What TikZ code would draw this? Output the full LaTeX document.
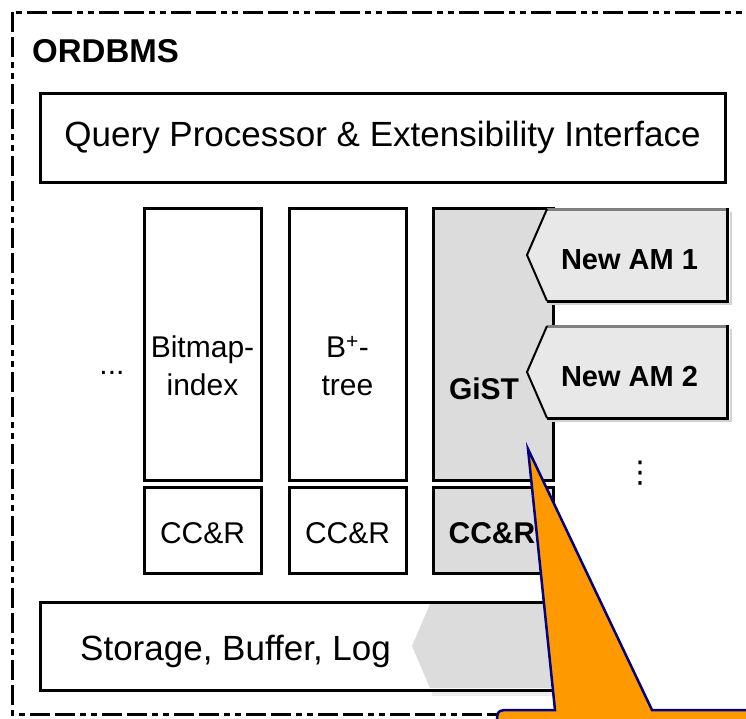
\documentclass[tikz,border=0pt]{standalone}
\usepackage{fontspec}
\setmainfont{Liberation Sans}
\newfontfamily\symfont{DejaVu Sans}
\definecolor{gistgray}{HTML}{DCDCDC}
\definecolor{amgray}{HTML}{E8E8E8}
\definecolor{calloutorange}{HTML}{FF9900}
\definecolor{calloutline}{HTML}{000080}
\tikzset{
	box/.style={draw, line width=3pt, inner sep=0pt},
	lbl/.style={font=\fontsize{30}{38}\selectfont, align=center, inner sep=0pt},
	amlbl/.style={font=\fontsize{29}{34}\selectfont\bfseries, inner sep=0pt},
	frame/.style={line width=3pt, dash pattern=on 20pt off 5pt on 20pt off 5pt on 6pt off 5pt on 6pt off 5pt},
}
\begin{document}
\begin{tikzpicture}[x=1pt, y=-1pt, line join=miter]
	\useasboundingbox (0,0) rectangle (746,718);
	\clip (0,0) rectangle (746,718);
	\path 
	(12,12) coordinate (F1)
	(780,714) coordinate (F2)
	(528,449) coordinate (T)
	;
	% outer frame
	\draw[frame] (F1) rectangle (F2);
	\node[anchor=base west, inner sep=0pt, font=\fontsize{33}{40}\selectfont\bfseries] (ordbms) at (32,62) {ORDBMS};
	\node[box, minimum width=685pt, minimum height=89pt, font=\fontsize{35}{42}\selectfont] (query) at (382.5,137.5) {Query Processor \& Extensibility Interface};
	% access methods
	\node[box, minimum width=117pt, minimum height=272pt] (bitmap) at (202.5,344) {};
	\node[box, minimum width=117pt, minimum height=86pt] (bitmapcc) at (202.5,530) {};
	\node[box, minimum width=117pt, minimum height=272pt] (btree) at (347.5,344) {};
	\node[box, minimum width=117pt, minimum height=86pt] (btreecc) at (347.5,530) {};
	\node[box, fill=gistgray, minimum width=120pt, minimum height=272pt] (gist) at (493,344) {};
	\node[box, fill=gistgray, minimum width=120pt, minimum height=86pt] (gistcc) at (493,530) {};
	\node[lbl] (bitmaplbl) at (202.5,366) {Bitmap-\\index};
	\node[lbl] (btreelbl) at (347.5,366) {B\textsuperscript{+}-\\tree};
	\node[lbl, font=\fontsize{30}{38}\selectfont\bfseries] (gistlbl) at (484,389) {GiST};
	\node[lbl] (bitmapcclbl) at (202.5,533) {CC\&R};
	\node[lbl] (btreecclbl) at (347.5,533) {CC\&R};
	\node[lbl, font=\fontsize{30}{38}\selectfont\bfseries] (gistcclbl) at (492,533) {CC\&R};
	\node[lbl, anchor=base] (more) at (112,374) {...};
	% new access methods
	\foreach \y/\n in {209/1,326/2}{
		\fill[amgray] (547,\y) -- (727,\y) -- (727,\y+92) -- (547,\y+92) -- (527,\y+46) -- cycle;
		\draw[gray!35, line width=2pt] (550,\y+95) -- (731,\y+95) -- (731,\y+3);
		\draw[gray, line width=3pt] (547,\y) -- (727,\y);
		\draw[line width=3pt] (727,\y-1.5) -- (727,\y+92) -- (547,\y+92);
		\draw[line width=2pt] (547,\y) -- (527,\y+46) -- (547,\y+92);
		\node[amlbl] (am\n) at (629.5,\y+51) {New AM \n};
	}
	\node[inner sep=0pt, font=\fontsize{30}{36}\symfont] (vdots) at (640,473) {⋮};
	% storage
	\fill[gray!15] (432,691) rectangle (553,696);
	\fill[gistgray] (430,604) -- (551,604) -- (551,688) -- (430,688) -- (412,646) -- cycle;
	\node[box, minimum width=513pt, minimum height=88pt] (storage) at (296.5,646) {};
	\node[anchor=base west, inner sep=0pt, font=\fontsize{35}{42}\selectfont] (storagelbl) at (80,660) {Storage, Buffer, Log};
	% callout
	\draw[fill=calloutorange, draw=calloutline, line width=2.5pt, line join=miter]
	(T) -- (652,710) -- (790,710) -- (790,790) -- (497,790) -- (497,725)
	.. controls (497,710) .. (512,710) -- (555,710) -- cycle;
\end{tikzpicture}
\end{document}
